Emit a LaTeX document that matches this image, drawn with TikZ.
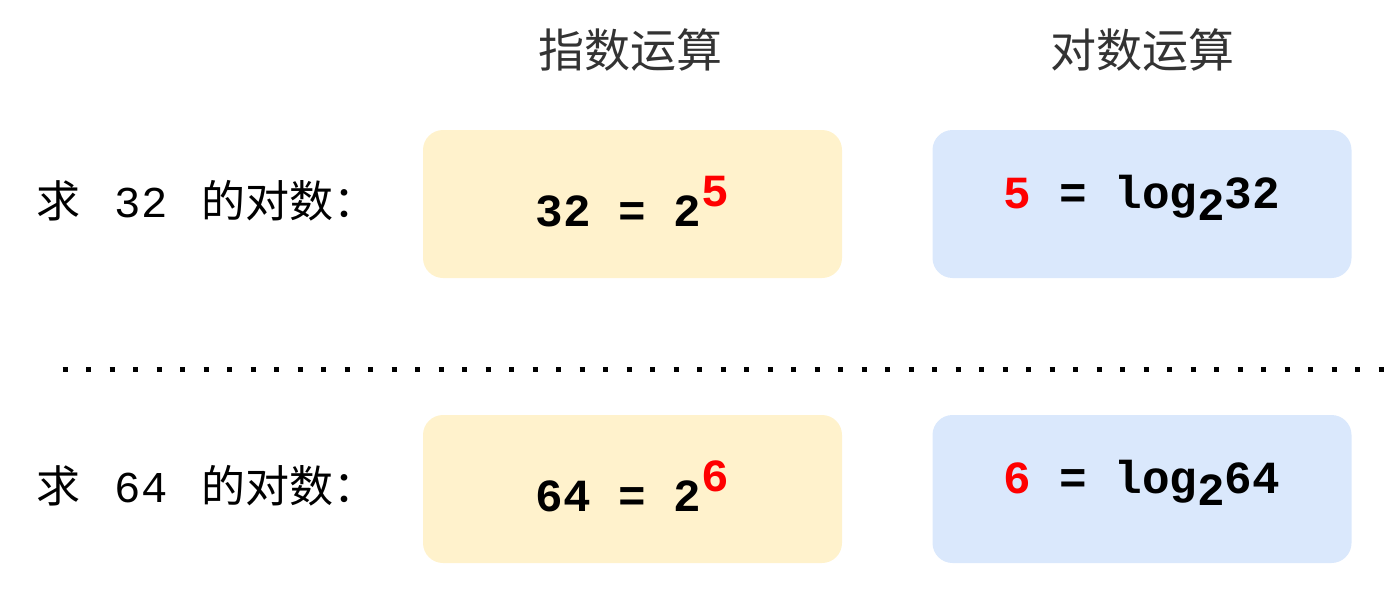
\documentclass[tikz,border=0pt]{standalone}
\usepackage{fontspec}
\setmainfont{Noto Sans CJK SC}
\newfontfamily\monofont{Liberation Mono}
\definecolor{expfill}{HTML}{FFF2CC}
\definecolor{logfill}{HTML}{DAE8FC}
\begin{document}
\begin{tikzpicture}[x=0.5pt,y=-0.5pt,
	card/.style={rounded corners=10pt,minimum width=209.5pt,minimum height=74pt,inner sep=0pt,font=\monofont\bfseries\fontsize{23}{26}\selectfont},
	expcard/.style={card,fill=expfill},
	logcard/.style={card,fill=logfill},
	head/.style={font=\fontsize{23}{26}\selectfont,text=black!80},
	ask/.style={anchor=west,inner sep=0pt,font=\fontsize{22}{26}\selectfont}]
\useasboundingbox (0,0) rectangle (1384,610);
\node[head] (exphead) at (630,50) {指数运算};
\node[head] (loghead) at (1142,50) {对数运算};
\node[ask] (ask1) at (36,201) {求{\monofont\ \hspace{4pt}32\ \hspace{3.5pt}}的对数：};
\node[ask] (ask2) at (36,486) {求{\monofont\ \hspace{4pt}64\ \hspace{3.5pt}}的对数：};
\node[expcard] (exp1) at (632.5,204) {32 = 2\raisebox{0.43em}{\textcolor{red}{5}}\rule[-3pt]{0pt}{3pt}};
\node[logcard] (log1) at (1142,204) {\textcolor{red}{5} = log\raisebox{-0.26em}{2}32\rule[-12pt]{0pt}{12pt}};
\node[expcard] (exp2) at (632.5,489) {64 = 2\raisebox{0.43em}{\textcolor{red}{6}}\rule[-3pt]{0pt}{3pt}};
\node[logcard] (log2) at (1142,489) {\textcolor{red}{6} = log\raisebox{-0.26em}{2}64\rule[-12pt]{0pt}{12pt}};
\coordinate (sepl) at (62.5,369);
\coordinate (sepr) at (1384,369);
\draw[line width=2.5pt,dash pattern=on 2.5pt off 9.25pt] (sepl) -- (sepr);
\end{tikzpicture}
\end{document}
